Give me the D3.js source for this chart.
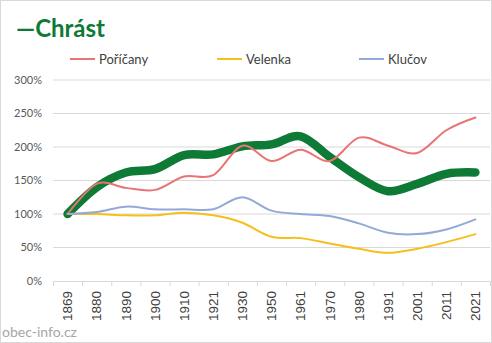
<!DOCTYPE html>
<html>
<head>
<meta charset="utf-8">
<script src="https://cdn.jsdelivr.net/npm/d3@7"></script>
<style>
  body { margin: 0; background: #fff; }
  svg { display: block; font-family: Lato, "Open Sans", sans-serif; }
  .xlab { font-family: "Liberation Sans", Arial, sans-serif; font-size: 13.5px; }
</style>
</head>
<body>
<div id="chart"></div>
<script>
// census years
const years = ['1869', '1880', '1890', '1900', '1910', '1921', '1930', '1950',
  '1961', '1970', '1980', '1991', '2001', '2011', '2021'];

// population relative to 1869 (%)
const chrast   = [100, 140, 162, 167, 188, 189, 201, 204, 216, 185, 155, 134, 145, 160, 162];
const poricany = [100, 145, 139, 136, 156, 158, 202, 179, 196, 179, 214, 202, 191, 225, 244];
const velenka  = [100, 100, 98, 98, 102, 98, 87, 66, 64, 56, 48, 42, 48, 58, 70];
const klucov   = [100, 103, 111, 107, 107, 107, 125, 105, 100, 97, 86, 72, 70, 77, 92];

const yTicks = [0, 50, 100, 150, 200, 250, 300];

const W = 492, H = 343;
const margin = {top: 80, right: 2, bottom: 62, left: 53};
const width = W - margin.left - margin.right,
  height = H - margin.top - margin.bottom;

const svg = d3.select('#chart').append('svg')
  .attr('width', W)
  .attr('height', H);

// outer border
svg.append('rect')
  .attr('x', 0.5).attr('y', 0.5)
  .attr('width', W - 1).attr('height', H - 1)
  .attr('fill', '#fff').attr('stroke', '#d9d9d9');

const g = svg.append('g')
  .attr('transform', 'translate(' + margin.left + ',' + margin.top + ')');

const x = d3.scaleBand().domain(years).range([0, width]);
const y = d3.scaleLinear().domain([0, 300]).range([height, 0]);

// gridlines
g.selectAll('.grid')
  .data(yTicks.slice(1))
  .enter().append('line')
  .attr('x1', 0).attr('x2', width)
  .attr('y1', d => y(d)).attr('y2', d => y(d))
  .attr('stroke', '#d9d9d9').attr('stroke-width', 1);

// y labels
g.selectAll('.ylab')
  .data(yTicks)
  .enter().append('text')
  .attr('x', -11)
  .attr('y', d => y(d))
  .attr('dy', '0.35em')
  .attr('text-anchor', 'end')
  .attr('font-size', 11)
  .attr('fill', '#595959')
  .text(d => d + '%');

// x axis
const xAxis = g.append('g')
  .attr('transform', 'translate(0,' + height + ')')
  .call(d3.axisBottom(x).tickSize(0).tickPadding(0));
xAxis.attr('font-family', null).attr('font-size', null);
xAxis.select('.domain').attr('stroke', '#d9d9d9');
xAxis.selectAll('text')
  .attr('class', 'xlab')
  .attr('transform', 'rotate(-90)')
  .attr('x', -10).attr('y', 0).attr('dy', '0.35em')
  .attr('text-anchor', 'end')
  .attr('fill', '#404040');

// boundary tick marks
xAxis.selectAll('.bt')
  .data(years.concat(['end']))
  .enter().append('line')
  .attr('x1', (d, i) => i * x.step() + 0.5)
  .attr('x2', (d, i) => i * x.step() + 0.5)
  .attr('y1', 0).attr('y2', 5)
  .attr('stroke', '#d9d9d9');

const line = d3.line()
  .x((d, i) => x(years[i]) + x.bandwidth() / 2)
  .y(d => y(d))
  .curve(d3.curveCardinal.tension(0));

const series = [
  {name: 'Poříčany', values: poricany, color: '#e97474', w: 2},
  {name: 'Velenka', values: velenka, color: '#f5bf1d', w: 2},
  {name: 'Klučov', values: klucov, color: '#93a9d8', w: 2}
];

// Chrást first, the thin lines sit on top of it
g.append('path')
  .datum(chrast)
  .attr('d', line)
  .attr('fill', 'none')
  .attr('stroke', '#0d7a36')
  .attr('stroke-width', 8.5)
  .attr('stroke-linecap', 'round');

series.forEach(s => {
  g.append('path')
    .datum(s.values)
    .attr('d', line)
    .attr('fill', 'none')
    .attr('stroke', s.color)
    .attr('stroke-width', s.w)
    .attr('stroke-linecap', 'round');
});

// title
svg.append('text')
  .attr('x', 16).attr('y', 37)
  .attr('font-size', 24)
  .attr('font-weight', 'bold')
  .attr('fill', '#0d7a36')
  .text('—Chrást');

// legend
const legendX = [70, 217, 359];
series.forEach((s, i) => {
  svg.append('line')
    .attr('x1', legendX[i]).attr('x2', legendX[i] + 25)
    .attr('y1', 59).attr('y2', 59)
    .attr('stroke', s.color).attr('stroke-width', 2);
  svg.append('text')
    .attr('x', legendX[i] + 29).attr('y', 59)
    .attr('dy', '0.35em')
    .attr('font-size', 13)
    .attr('fill', '#404040')
    .text(s.name);
});

// watermark
svg.append('text')
  .attr('x', 2).attr('y', 337)
  .attr('font-size', 14)
  .attr('fill', '#a6a6a6')
  .text('obec-info.cz');
</script>
</body>
</html>
